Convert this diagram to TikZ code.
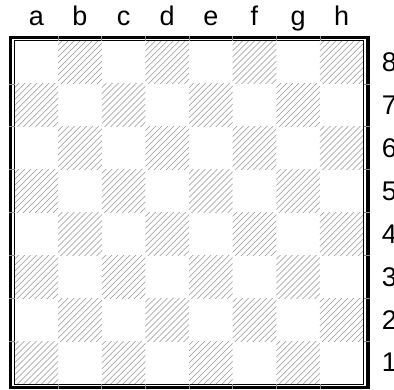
\documentclass[tikz,border=0pt]{standalone}
\usepackage{fontspec}
\setmainfont{Liberation Sans}
\begin{document}
\begin{tikzpicture}[x=0.5pt,y=-0.5pt,
  lbl/.style={font=\fontsize{13.5}{15}\selectfont, inner sep=0pt},
  hatchline/.style={black!42, line width=0.3pt},
  frameouter/.style={line width=1.75pt},
  frameinner/.style={line width=0.5pt},
  gridtick/.style={black!45, line width=0.3pt}]
\useasboundingbox (0,0) rectangle (394,389);
\def\bx{14.5}\def\by{41}\def\cw{43.625}\def\rh{42.875}
% hatched squares
\foreach \c in {0,...,7}{
  \foreach \r in {0,...,7}{
    \pgfmathtruncatemacro{\odd}{mod(\c+\r,2)}
    \ifnum\odd=1
      \begin{scope}
        \clip (\bx+\c*\cw, \by+\r*\rh) rectangle ++(\cw,\rh);
        \foreach \k in {-8,...,7}{
          \draw[hatchline] (\bx+\c*\cw+\k*6+2, \by+\r*\rh+\rh+1) -- ++(46,-46);
        }
      \end{scope}
    \fi
  }
}
% frame
\draw[frameouter] (10.5,37.75) rectangle (368,387.5);
\draw[frameinner] (\bx,\by) rectangle (\bx+8*\cw,\by+8*\rh);
% ticks on the frame
\foreach \i in {1,...,7}{
  \draw[gridtick] (\bx+\i*\cw,36) -- (\bx+\i*\cw,\by);
  \draw[gridtick] (\bx+\i*\cw,\by+8*\rh) -- (\bx+\i*\cw,389);
  \draw[gridtick] (9,\by+\i*\rh) -- (\bx,\by+\i*\rh);
  \draw[gridtick] (\bx+8*\cw,\by+\i*\rh) -- (370,\by+\i*\rh);
}
% file labels
\foreach \f [count=\i from 0] in {a,b,c,d,e,f,g,h}{
  \node[lbl, anchor=base] (file\f) at (\bx+\i*\cw+\cw/2, 26) {\f};
}
% rank labels
\foreach \n [count=\i from 0] in {8,7,6,5,4,3,2,1}{
  \node[lbl, anchor=west] (rankR\n) at (381.5, \by+\i*\rh+\rh/2) {\n};
  \node[lbl, anchor=east] (rankL\n) at (0.6, \by+\i*\rh+\rh/2) {\n};
}
\end{tikzpicture}
\end{document}
